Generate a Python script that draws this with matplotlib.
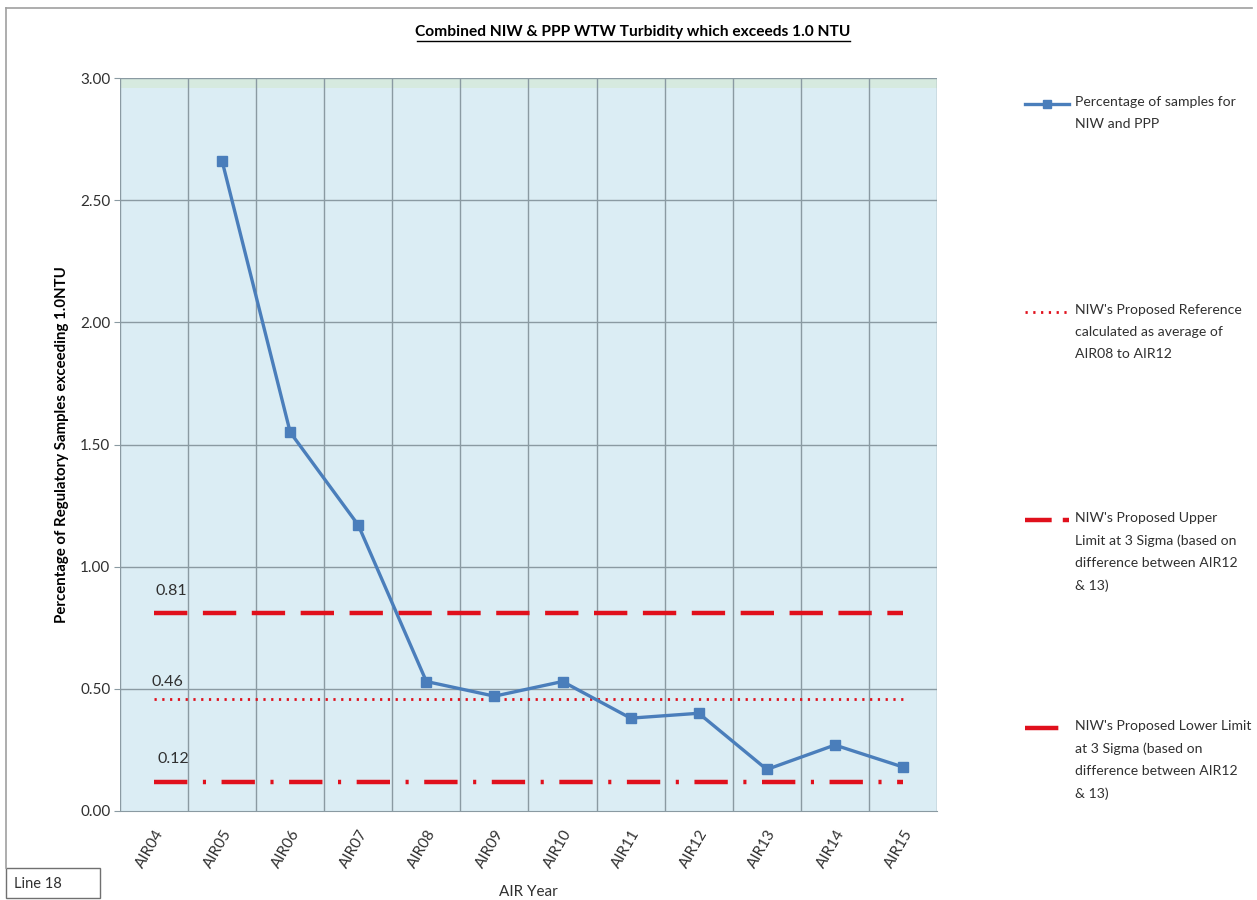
import matplotlib
matplotlib.use("Agg")
import matplotlib.pyplot as plt
from matplotlib.lines import Line2D
from matplotlib.patches import Rectangle

plt.rcParams['font.family'] = ['Lato', 'DejaVu Sans']

# ---- data ----
years = ["AIR04", "AIR05", "AIR06", "AIR07", "AIR08", "AIR09",
         "AIR10", "AIR11", "AIR12", "AIR13", "AIR14", "AIR15"]
pct_samples = [None, 2.66, 1.55, 1.17, 0.53, 0.47, 0.53, 0.38, 0.40, 0.17, 0.27, 0.18]
reference_level = 0.46
upper_limit = 0.81
lower_limit = 0.12
y_ticks = [0.0, 0.5, 1.0, 1.5, 2.0, 2.5, 3.0]

series_label = "Percentage of samples for\nNIW and PPP"
ref_label = "NIW's Proposed Reference\ncalculated as average of\nAIR08 to AIR12"
upper_label = "NIW's Proposed Upper\nLimit at 3 Sigma (based on\ndifference between AIR12\n& 13)"
lower_label = "NIW's Proposed Lower Limit\nat 3 Sigma (based on\ndifference between AIR12\n& 13)"

W, H = 1257, 900
fig = plt.figure(figsize=(W / 100, H / 100), dpi=100)
fig.patch.set_facecolor("white")

ax = fig.add_axes([120 / W, 1 - 811 / H, (937 - 120) / W, (811 - 78) / H])
ax.set_facecolor("#dbedf4")

x = list(range(len(years)))
line_blue = "#4a7ebb"
red = "#e0101c"
txt = "#303030"

# main series
xs = [i for i, v in zip(x, pct_samples) if v is not None]
vs = [v for v in pct_samples if v is not None]
ax.plot(xs, vs, color=line_blue, lw=2.4, marker="s", ms=7,
        mfc=line_blue, mec=line_blue, zorder=5)

# reference and limit lines across all years
dotted = (0, (0.8, 2.0))
dashed = (0, (7.5, 3.5))
dashdot = (0, (7.5, 3.5, 0.7, 3.5))
ax.plot(x, [upper_limit] * len(x), color=red, lw=3.2, linestyle=dashed, zorder=4)
ax.plot(x, [reference_level] * len(x), color=red, lw=2.0, linestyle=dotted, zorder=4)
ax.plot(x, [lower_limit] * len(x), color=red, lw=3.2, linestyle=dashdot, zorder=4)

# value labels at the first year
for val, dy, dx in [(upper_limit, 15, 17), (reference_level, 10, 13), (lower_limit, 16, 19)]:
    ax.annotate(f"{val:.2f}", xy=(0, val), xytext=(dx, dy), textcoords="offset pixels",
                ha="center", va="bottom", fontsize=11.5, color=txt)

ax.set_xlim(-0.5, len(years) - 0.5)
ax.set_ylim(0, 3.0)
ax.set_yticks(y_ticks)
ax.set_yticklabels([f"{t:.2f}" for t in y_ticks], fontsize=11, color=txt)
ax.set_xticks(x)
ax.set_xticklabels(years, rotation=60, ha="right", rotation_mode="anchor",
                   fontsize=11, color=txt)
ax.tick_params(axis="x", length=0, pad=12)
ax.tick_params(axis="y", length=4, color="#8a9aa2", pad=3)

# grid: horizontal at ticks, vertical at category boundaries
for t in y_ticks[1:]:
    ax.axhline(t, color="#8a9aa2", lw=1.0, zorder=1)
for b in range(len(years) + 1):
    ax.axvline(b - 0.5, color="#8a9aa2", lw=1.0, zorder=1)
ax.axhspan(2.96, 3.0, color="#d6eadf", zorder=0.5, lw=0)
for s in ax.spines.values():
    s.set_visible(False)
ax.spines["bottom"].set_visible(True)
ax.spines["bottom"].set_color("#8a9aa2")

ax.set_ylabel("Percentage of Regulatory Samples exceeding 1.0NTU",
              fontsize=10.8, fontweight="bold", color="black", labelpad=8)
ax.set_xlabel("AIR Year", fontsize=11, color=txt, labelpad=10)

fig.text(633 / W, 1 - 32 / H, "Combined NIW & PPP WTW Turbidity which exceeds 1.0 NTU",
         ha="center", va="center", fontsize=11.2, fontweight="bold")
# underline for title
fig.add_artist(Line2D([417 / W, 850 / W], [1 - 41 / H, 1 - 41 / H],
                      transform=fig.transFigure, color="black", lw=1.0))

# frame lines
fig.add_artist(Line2D([6 / W, 1252 / W], [1 - 8 / H, 1 - 8 / H],
                      transform=fig.transFigure, color="#a0a0a0", lw=1.2))
fig.add_artist(Line2D([6 / W, 6 / W], [1 - 8 / H, 1 - 868 / H],
                      transform=fig.transFigure, color="#a0a0a0", lw=1.2))

# "Line 18" box
fig.add_artist(Rectangle((6 / W, 1 - 898 / H), 94 / W, 30 / H, transform=fig.transFigure,
                         fill=False, edgecolor="#707070", lw=1.0))
fig.text(14 / W, 1 - 884 / H, "Line 18", ha="left", va="center", fontsize=10.5, color=txt)

# legend entries placed down the right-hand side
entries = [
    (104, dict(color=line_blue, lw=2.4, marker="s", ms=6, markevery=[1]), series_label),
    (312, dict(color=red, lw=2.0, linestyle=dotted), ref_label),
    (520, dict(color=red, lw=3.2, linestyle=(0, (6.0, 2.5))), upper_label),
    (728, dict(color=red, lw=3.2, linestyle=(0, (7.5, 2.5, 0.7, 3.5))), lower_label),
]
for ypix, style, label in entries:
    yy = 1 - ypix / H
    xs_leg = [1025 / W, 1047 / W, 1069 / W]
    fig.add_artist(Line2D(xs_leg, [yy] * 3, transform=fig.transFigure, **style))
    fig.text(1075 / W, yy + 8 / H, label, ha="left", va="top", fontsize=10.1,
             color=txt, linespacing=2.0)

fig.savefig("out.png", dpi=100, facecolor="white")
